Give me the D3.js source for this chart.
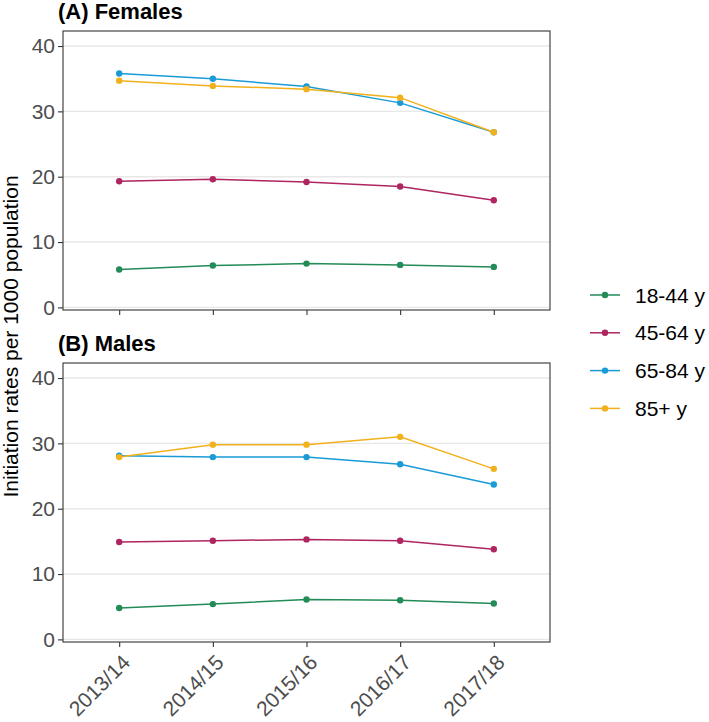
<!DOCTYPE html>
<html>
<head>
<meta charset="utf-8">
<script src="https://cdn.jsdelivr.net/npm/d3@7/dist/d3.min.js"></script>
<style>
  body { margin: 0; background: #fff; }
  svg { display: block; font-family: "Liberation Sans", Arial, Helvetica, sans-serif; }
</style>
</head>
<body>
<svg id="chart" width="709" height="722"></svg>
<script>
const years = ["2013/14", "2014/15", "2015/16", "2016/17", "2017/18"];
const ageGroups = ["18-44 y", "45-64 y", "65-84 y", "85+ y"];
const colors = ["#238B57", "#AE2560", "#1A9BD6", "#F2B11C"];
const yTicks = [0, 10, 20, 30, 40];

// Females
const females_18_44 = [5.8, 6.4, 6.7, 6.5, 6.2];
const females_45_64 = [19.3, 19.6, 19.2, 18.5, 16.4];
const females_65_84 = [35.8, 35.0, 33.8, 31.3, 26.8];
const females_85p   = [34.7, 33.9, 33.4, 32.1, 26.8];
// Males
const males_18_44 = [4.8, 5.4, 6.1, 6.0, 5.5];
const males_45_64 = [14.9, 15.1, 15.3, 15.1, 13.8];
const males_65_84 = [28.1, 27.9, 27.9, 26.8, 23.7];
const males_85p   = [27.9, 29.8, 29.8, 31.0, 26.1];

const panels = [
  { title: "(A) Females", series: [females_18_44, females_45_64, females_65_84, females_85p], top: 31, showX: false },
  { title: "(B) Males", series: [males_18_44, males_45_64, males_65_84, males_85p], top: 363, showX: true }
];

const svg = d3.select("#chart");
const left = 63, right = 550, panelH = 279;
const x = d3.scalePoint().domain(years).range([left, right]).padding(0.6);

panels.forEach(p => {
  const y = d3.scaleLinear().domain([-0.4, 42.3]).range([p.top + panelH, p.top]);
  const g = svg.append("g");

  // gridlines
  g.selectAll("line.grid").data(yTicks).enter().append("line")
    .attr("x1", left).attr("x2", right)
    .attr("y1", d => y(d)).attr("y2", d => y(d))
    .attr("stroke", "#E8E8E8").attr("stroke-width", 1.4);

  // y axis
  const yAxis = d3.axisLeft(y).tickValues(yTicks).tickSize(5).tickPadding(3);
  const ya = g.append("g").attr("transform", `translate(${left},0)`).call(yAxis);
  ya.select(".domain").remove();
  ya.selectAll(".tick line").attr("stroke", "#333").attr("stroke-width", 1.1);
  ya.selectAll(".tick text").attr("fill", "#4D4D4D").style("font-size", "21px")
    .attr("font-family", "Liberation Sans, Arial, sans-serif");

  // x axis ticks
  const xAxis = d3.axisBottom(x).tickSize(5).tickPadding(3);
  const xa = g.append("g").attr("transform", `translate(0,${p.top + panelH})`).call(xAxis);
  xa.select(".domain").remove();
  xa.selectAll(".tick line").attr("stroke", "#333").attr("stroke-width", 1.1);
  if (p.showX) {
    xa.selectAll(".tick text")
      .attr("fill", "#4D4D4D").style("font-size", "21px")
      .attr("font-family", "Liberation Sans, Arial, sans-serif")
      .attr("text-anchor", "end")
      .attr("dy", null).attr("y", null)
      .attr("transform", "translate(1,11) rotate(-45)")
      .attr("dominant-baseline", "hanging");
  } else {
    xa.selectAll(".tick text").remove();
  }

  // lines and points
  p.series.forEach((vals, i) => {
    const line = d3.line().x((d, j) => x(years[j])).y(d => y(d));
    g.append("path").datum(vals).attr("d", line)
      .attr("fill", "none").attr("stroke", colors[i]).attr("stroke-width", 1.5);
    g.selectAll(null).data(vals).enter().append("circle")
      .attr("cx", (d, j) => x(years[j])).attr("cy", d => y(d)).attr("r", 3.2)
      .attr("fill", colors[i]);
  });

  // panel border
  g.append("rect").attr("x", left).attr("y", p.top).attr("width", right - left).attr("height", panelH)
    .attr("fill", "none").attr("stroke", "#333").attr("stroke-width", 1.1);

  // title
  g.append("text").attr("x", 58).attr("y", p.top - 12).text(p.title)
    .style("font-size", "22px").style("font-weight", "bold").attr("fill", "#000");
});

// y-axis title
svg.append("text")
  .attr("transform", `translate(18,${(31 + 363 + panelH) / 2}) rotate(-90)`)
  .attr("text-anchor", "middle")
  .style("font-size", "21px").attr("fill", "#000")
  .text("Initiation rates per 1000 population");

// legend
const lg = svg.append("g");
ageGroups.forEach((name, i) => {
  const cy = 295 + i * 37.8;
  lg.append("line").attr("x1", 590).attr("x2", 620).attr("y1", cy).attr("y2", cy)
    .attr("stroke", colors[i]).attr("stroke-width", 1.5);
  lg.append("circle").attr("cx", 605).attr("cy", cy).attr("r", 3.2).attr("fill", colors[i]);
  lg.append("text").attr("x", 635).attr("y", cy).attr("dy", "0.36em")
    .style("font-size", "21px").attr("fill", "#000").text(name);
});
</script>
</body>
</html>
